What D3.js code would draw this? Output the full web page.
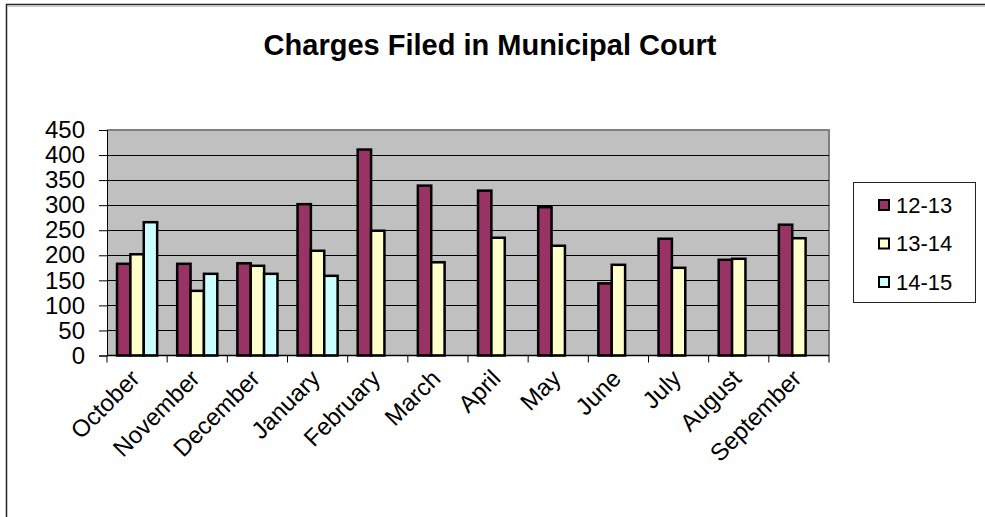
<!DOCTYPE html>
<html>
<head>
<meta charset="utf-8">
<script src="https://cdn.jsdelivr.net/npm/d3@7"></script>
<style>
  html, body { margin: 0; padding: 0; background: #fff; }
  svg { display: block; font-family: "Liberation Sans", Arial, sans-serif; }
</style>
</head>
<body>
<svg id="chart" width="985" height="517"></svg>
<script>
// chart data
var months = ["October", "November", "December", "January", "February", "March",
              "April", "May", "June", "July", "August", "September"];
var seriesNames = ["12-13", "13-14", "14-15"];
var s1213 = [183, 183, 184, 302, 411, 339, 329, 296, 144, 233, 191, 261];
var s1314 = [202, 129, 179, 209, 249, 186, 235, 219, 181, 175, 193, 234];
var s1415 = [266, 163, 163, 159, null, null, null, null, null, null, null, null];
var yTicks = [0, 50, 100, 150, 200, 250, 300, 350, 400, 450];
var colors = ["#993366", "#FFFFCC", "#CCFFFF"];

var svg = d3.select("#chart");

// layout
var plot = { left: 107, right: 829, top: 130, bottom: 355.5 };

var x = d3.scaleBand()
    .domain(months)
    .range([plot.left, plot.right])
    .paddingInner(1/3)
    .paddingOuter(1/6);

var xs = d3.scaleBand()
    .domain(seriesNames)
    .range([0, x.bandwidth()]);

var y = d3.scaleLinear()
    .domain([0, 450])
    .range([plot.bottom, plot.top]);

// outer chart frame
svg.append("path")
    .attr("d", "M6.5,520 V4.5 H990")
    .attr("fill", "none")
    .attr("stroke", "#222")
    .attr("stroke-width", 1.5);
svg.append("path")
    .attr("d", "M8,6.5 H990")
    .attr("fill", "none")
    .attr("stroke", "#c8c8c8")
    .attr("stroke-width", 1);

// title
svg.append("text")
    .attr("x", 490)
    .attr("y", 55)
    .attr("text-anchor", "middle")
    .attr("font-size", 29)
    .attr("font-weight", "bold")
    .text("Charges Filed in Municipal Court");

// plot background
svg.append("rect")
    .attr("x", plot.left)
    .attr("y", plot.top)
    .attr("width", plot.right - plot.left)
    .attr("height", plot.bottom - plot.top)
    .attr("fill", "#C0C0C0");

// gray top/right border of plot area
svg.append("path")
    .attr("d", "M" + plot.left + "," + plot.top + " H" + plot.right + " V" + plot.bottom)
    .attr("fill", "none")
    .attr("stroke", "#808080")
    .attr("stroke-width", 2);

// gridlines
svg.append("g")
    .selectAll("line")
    .data(yTicks.filter(d => d > 0 && d < 450))
    .join("line")
    .attr("x1", plot.left)
    .attr("x2", plot.right)
    .attr("y1", d => Math.round(y(d)) + 0.5)
    .attr("y2", d => Math.round(y(d)) + 0.5)
    .attr("stroke", "#000")
    .attr("stroke-width", 1);

// bars
var rows = [s1213, s1314, s1415];
var barData = [];
months.forEach(function(m, i){
    rows.forEach(function(r, k){
        if (r[i] != null) barData.push({ month: m, series: seriesNames[k], value: r[i], k: k });
    });
});

svg.append("g")
    .selectAll("rect")
    .data(barData)
    .join("rect")
    .attr("x", d => x(d.month) + xs(d.series))
    .attr("y", d => y(d.value))
    .attr("width", xs.bandwidth())
    .attr("height", d => plot.bottom - y(d.value))
    .attr("fill", d => colors[d.k])
    .attr("stroke", "#000")
    .attr("stroke-width", 2.5);

// y axis
var yAxis = d3.axisLeft(y)
    .tickValues(yTicks)
    .tickSize(8)
    .tickPadding(14);
var gy = svg.append("g")
    .attr("transform", "translate(" + plot.left + ",0)")
    .call(yAxis);
gy.select(".domain").attr("stroke", "#000").attr("stroke-width", 1);
gy.selectAll(".tick line").attr("stroke", "#000");
gy.selectAll("text")
    .attr("font-size", 24)
    .attr("font-family", "Liberation Sans, Arial, sans-serif")
    .attr("fill", "#000");

// x axis line and category ticks
svg.append("line")
    .attr("x1", plot.left)
    .attr("x2", plot.right)
    .attr("y1", plot.bottom)
    .attr("y2", plot.bottom)
    .attr("stroke", "#000")
    .attr("stroke-width", 1.5);

var bounds = months.map(m => x(m) - x.step() * x.paddingOuter());
bounds.push(plot.right);
svg.append("g")
    .selectAll("line")
    .data(bounds)
    .join("line")
    .attr("x1", d => d)
    .attr("x2", d => d)
    .attr("y1", plot.bottom)
    .attr("y2", plot.bottom + 7)
    .attr("stroke", "#000")
    .attr("stroke-width", 1);

// rotated month labels
svg.append("g")
    .selectAll("text")
    .data(months)
    .join("text")
    .attr("transform", d => "translate(" + (x(d) + x.bandwidth() / 2 + 4) + "," + 380 + ") rotate(-45)")
    .attr("text-anchor", "end")
    .attr("font-size", 24)
    .text(d => d);

// legend
var legend = svg.append("g");
legend.append("rect")
    .attr("x", 853.5)
    .attr("y", 182.5)
    .attr("width", 122)
    .attr("height", 120)
    .attr("fill", "#fff")
    .attr("stroke", "#222")
    .attr("stroke-width", 1);

var item = legend.selectAll("g.item")
    .data(seriesNames)
    .join("g")
    .attr("class", "item")
    .attr("transform", (d, i) => "translate(879," + (205 + i * 38.5) + ")");
item.append("rect")
    .attr("x", 0)
    .attr("y", -5)
    .attr("width", 10)
    .attr("height", 10)
    .attr("fill", (d, i) => colors[i])
    .attr("stroke", "#000")
    .attr("stroke-width", 2);
item.append("text")
    .attr("x", 17)
    .attr("y", 0)
    .attr("dy", "0.36em")
    .attr("font-size", 22)
    .text(d => d);
</script>
</body>
</html>
